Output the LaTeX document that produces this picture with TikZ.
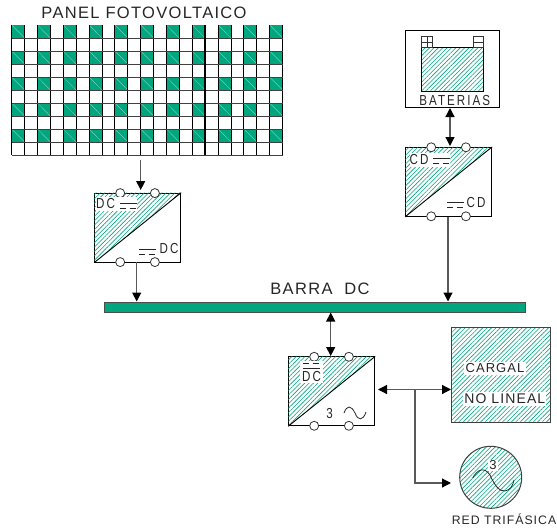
\documentclass[tikz,border=0pt]{standalone}
\usepackage{fontspec}
\setmainfont{Liberation Sans}[LetterSpace=8]
\newfontfamily\convfont{Liberation Sans}[FakeStretch=0.8,LetterSpace=14]
\usetikzlibrary{arrows.meta,patterns.meta}
\definecolor{panelgreen}{RGB}{0,166,125}
\begin{document}
\begin{tikzpicture}[x=1pt,y=-1pt]
    \tikzstyle{every node}=[inner sep=0pt, font=\fontsize{13}{13}\selectfont, text=black!85]
    \tikzstyle{small}=[font=\convfont\fontsize{14.5}{14.5}\selectfont]
    \tikzstyle{title}=[font=\fontsize{16.5}{16.5}\selectfont]
    \tikzstyle{conn}=[black!65, line width=1.2pt]
    \tikzstyle{oneway}=[conn, -{Triangle[length=9pt,width=9pt,black]}]
    \tikzstyle{twoway}=[conn, {Triangle[length=9pt,width=9pt,black]}-{Triangle[length=9pt,width=9pt,black]}]
    \tikzstyle{conv}=[rectangle, draw=black, line width=0.9pt, minimum width=86pt, minimum height=69pt]
    \tikzstyle{term}=[circle, fill=white, draw=black!80, line width=0.8pt, minimum size=9pt]
    \tikzstyle{hatch}=[pattern={Lines[angle=45,distance=3.1pt,line width=0.6pt]}, pattern color=panelgreen]
    \tikzstyle{clear}=[fill=white]
    \useasboundingbox (0,0) rectangle (557,530);

    \node[title] (pvname) at (144,13) {PANEL FOTOVOLTAICO};
    \node[rectangle, minimum width=271pt, minimum height=130pt] (panel) at (147.3,90) {};
    \foreach \col in {0,2,...,20}
        \foreach \row in {0,2,...,8} {
            \fill[panelgreen] (11.7+12.9*\col,25+13*\row) rectangle ++(12.9,13);
            \draw[white!60!panelgreen, line width=0.3pt] (11.7+12.9*\col,25+13*\row) -- ++(12.9,13);
        }
    \foreach \col in {0,...,21}
        \draw[black, line width=0.9pt] (11.7+12.9*\col,25) -- ++(0,130);
    \foreach \row in {1,...,10}
        \draw[black!75, line width=1pt] (11.7,25+13*\row) -- ++(270.9,0);
    \draw[black, line width=1.6pt] (205.2,25) -- (205.2,155);

    \node[rectangle, draw=black!70, fill=panelgreen, line width=0.8pt, minimum width=421pt, minimum height=10pt] (bus) at (315.2,307) {};
    \node[title] (busname) at (320,289) {BARRA\hspace{6pt} DC};

    \foreach \name/\cx/\cy in {dcone/137.7/227.6,dctwo/448.7/181.8,dcthree/331.7/391.3} {
        \node[conv] (\name) at (\cx,\cy) {};
        \fill[hatch] (\name.north west) -- (\name.north east) -- (\name.south west) -- cycle;
        \draw[black, line width=0.9pt] (\name.south west) -- (\name.north east);
        \node[term] (\name a) at (\cx-17.5,\cy-34.5) {};
        \node[term] (\name b) at (\cx+17.2,\cy-34.5) {};
        \node[term] (\name c) at (\cx-17.5,\cy+34.5) {};
        \node[term] (\name d) at (\cx+17.2,\cy+34.5) {};
    }

    \fill[clear] (96,197) rectangle (137,211);
    \node[small] (dconeup) at (105.5,204) {DC};
    \node[small] (dconelow) at (169,248.5) {DC};
    \fill[clear] (410,153) rectangle (450,167);
    \node[small] (dctwoup) at (419,160) {CD};
    \node[small] (dctwolow) at (476,203) {CD};
    \fill[clear] (300,361) rectangle (323,383);
    \node[small] (dcthreeup) at (311.5,376.5) {DC};
    \draw[black!85, line width=0.7pt] (303,368.7) -- (320,368.7);
    \node[small] (dcthreeac) at (329.5,413.5) {3};
    \draw[black!85, line width=0.8pt] (344,413) .. controls (347,405) and (351,405) .. (355,413)
        .. controls (358,421) and (363,421) .. (366,412);
    \foreach \sx/\sy in {120/203,139/249,433/158,447/202} {
        \draw[black!85, line width=0.7pt] (\sx,\sy) -- ++(16.5,0);
        \draw[black!85, line width=0.7pt, dash pattern=on 6pt off 3.5pt] (\sx,\sy+5) -- ++(16.5,0);
    }
    \draw[black!85, line width=0.7pt, dash pattern=on 6pt off 3.5pt] (303,363.3) -- (320,363.3);

    \node[rectangle, draw=black, line width=0.9pt, minimum width=93.3pt, minimum height=77.7pt] (batbox) at (452.3,68.9) {};
    \node[rectangle, hatch, draw=black, line width=0.9pt, minimum width=62pt, minimum height=43.7pt] (bat) at (452.3,69.2) {};
    \node[rectangle, draw=black!80, line width=0.7pt, minimum width=11.4pt, minimum height=10.6pt] (batplus) at (427,42) {};
    \node[rectangle, draw=black!80, line width=0.7pt, minimum width=10pt, minimum height=10.6pt] (batminus) at (478.3,42) {};
    \draw[black!80, line width=0.6pt] (batplus.north) -- (batplus.south) (batplus.west) -- (batplus.east) (batminus.west) -- (batminus.east);
    \node[small] (batname) at (454.8,100.8) {BATERIAS};

    \node[rectangle, hatch, draw=black!75, line width=1pt, minimum width=99pt, minimum height=95pt] (load) at (501,375.2) {};
    \node[clear, inner xsep=2pt, inner ysep=2pt] (loadone) at (495,368.5) {CARGAL};
    \node[clear, inner xsep=1pt, inner ysep=2pt, font=\fontsize{14}{14}\selectfont] (loadtwo) at (504.8,399) {NO LINEAL};

    \node[circle, hatch, draw=black!75, line width=1pt, minimum size=62pt] (grid) at (490.7,477.3) {};
    \draw[black!85, line width=0.8pt] (472.7,478) .. controls (477,470) and (484,466) .. (490,475)
        .. controls (494,484) and (499,492) .. (505,491) .. controls (510,490) and (513,486) .. (514,480);
    \node[clear, inner sep=1pt] (gridthree) at (493,465.5) {3};
    \node[font=\fontsize{12.3}{12.3}\selectfont] (gridname) at (504,519.5) {RED TRIFÁSICA};

    \coordinate (pvout) at (140.7,160);
    \coordinate (dconein) at (140.7,190);
    \coordinate (split) at (415,389.5);
    \coordinate (gridin) at (451,483);

    \draw[oneway] (pvout) -- (dconein);
    \draw[oneway] (136.7,262) -- (136.7,301.5);
    \draw[oneway] (448,216.5) -- (448,301.5);
    \draw[twoway] (450,108) -- (450,146);
    \draw[twoway] (330.7,312.5) -- (330.7,356);
    \draw[twoway] (378,389.5) -- (load.west |- split);
    \draw[oneway] (split) -- (split |- gridin) -- (gridin);
\end{tikzpicture}
\end{document}
